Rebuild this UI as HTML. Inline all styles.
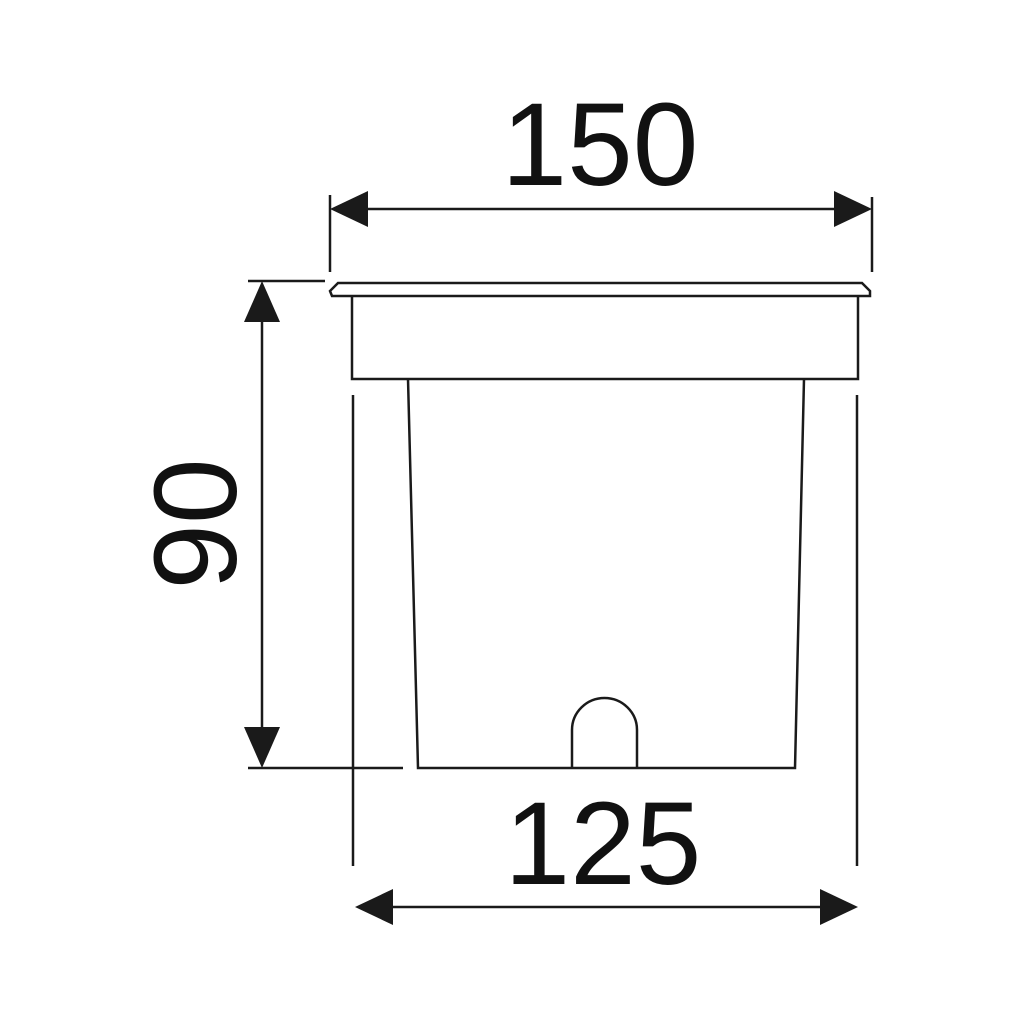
<!DOCTYPE html>
<html><head><style>body{margin:0;background:#fff}svg{display:block}</style></head><body>
<svg width="1024" height="1024" viewBox="0 0 1024 1024" xmlns="http://www.w3.org/2000/svg">
<g stroke="#1a1a1a" stroke-width="2.5" fill="none">
<line x1="330" y1="195" x2="330" y2="272"/>
<line x1="872" y1="197" x2="872" y2="272"/>
<line x1="360" y1="209" x2="842" y2="209"/>
<path d="M338,283 L862,283 L870,291 L870,296 L332,296 L330,291 Z"/>
<path d="M352,297 L352,379 L858,379 L858,297"/>
<path d="M408,379 L418,768 L795,768 L804,379"/>
<path d="M572,768 L572,730 A32.5,32 0 0 1 637,730 L637,768"/>
<line x1="353" y1="395" x2="353" y2="866"/>
<line x1="857" y1="395" x2="857" y2="866"/>
<line x1="248" y1="281" x2="325" y2="281"/>
<line x1="248" y1="768" x2="403" y2="768"/>
<line x1="262" y1="310" x2="262" y2="740"/>
<line x1="385" y1="907" x2="826" y2="907"/>
</g>
<g fill="#1a1a1a">
<polygon points="330,209 368,191 368,227"/>
<polygon points="872,209 834,191 834,227"/>
<polygon points="262,281 244,322 280,322"/>
<polygon points="262,768 244,727 280,727"/>
<polygon points="355,907 393,889 393,925"/>
<polygon points="858,907 820,889 820,925"/>
</g>
<g font-family="Liberation Sans, sans-serif" font-size="118" fill="#111" text-anchor="middle">
<text x="600" y="185">150</text>
<text x="603" y="884">125</text>
<text transform="translate(236,524) rotate(-90)" x="0" y="0">90</text>
</g>
</svg>
</body></html>
